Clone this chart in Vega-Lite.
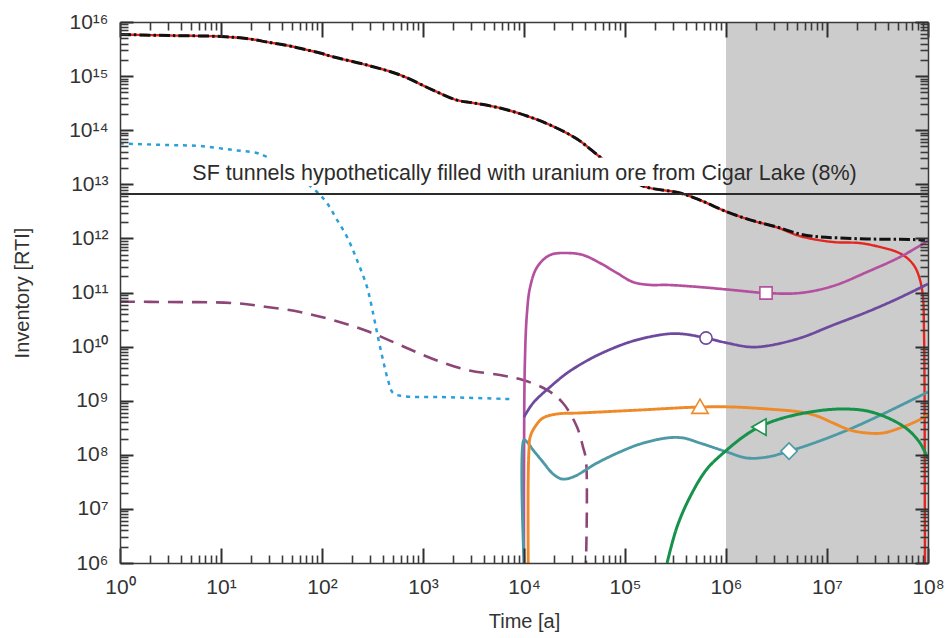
{
  "$schema": "https://vega.github.io/schema/vega-lite/v6.json",
  "width": 808,
  "height": 541,
  "autosize": "none",
  "padding": {"left": 120, "top": 22, "right": 18, "bottom": 75},
  "background": "white",
  "config": {"view": {"stroke": null}},
  "datasets": {
    "shade": [{"t0": 1000000, "t1": 100000000, "v0": 1000000, "v1": 1e16}],
    "box": [{"t0": 4.4, "t1": 1000000, "v0": 9.3e12, "v1": 3.1e13}],
    "note": [{"t": 5.2, "v": 1.2e13, "label": "SF tunnels hypothetically filled with uranium ore from Cigar Lake (8%)"}],
    "ore": [{"v": 6.6e12}],
    "ax": [{"t": 1, "v": 1000000}],
    "total": [
      {"t": 1, "v": 5.87e15}, {"t": 3.13, "v": 5.62e15}, {"t": 10, "v": 5.39e15}, {"t": 19.4, "v": 4.85e15},
      {"t": 28.5, "v": 4.27e15}, {"t": 48.2, "v": 3.6e15}, {"t": 60.5, "v": 3.26e15}, {"t": 95.5, "v": 2.67e15},
      {"t": 128, "v": 2.28e15}, {"t": 279, "v": 1.6e15}, {"t": 592, "v": 1.05e15}, {"t": 1256, "v": 5.5e14},
      {"t": 2172, "v": 3.6e14}, {"t": 3126, "v": 3.2e14}, {"t": 5786, "v": 2.57e14}, {"t": 10700, "v": 1.83e14},
      {"t": 18100, "v": 1.25e14}, {"t": 33500, "v": 6.87e13}, {"t": 56500, "v": 3.2e13}, {"t": 89100, "v": 1.69e13},
      {"t": 151000, "v": 9.3e12}, {"t": 351000, "v": 6.9e12}, {"t": 553000, "v": 5.1e12}, {"t": 1020000, "v": 3.1e12},
      {"t": 1730000, "v": 2.2e12}, {"t": 3200000, "v": 1.62e12}, {"t": 5410000, "v": 1.2e12}, {"t": 8530000, "v": 1.06e12},
      {"t": 13500000, "v": 1.02e12}, {"t": 24900000, "v": 9.75e11}, {"t": 52800000, "v": 9.6e11}, {"t": 93300000, "v": 9.4e11}
    ],
    "curves": [
      {"s": "red", "t": 1, "v": 5.87e15}, {"s": "red", "t": 3.13, "v": 5.62e15}, {"s": "red", "t": 10, "v": 5.39e15},
      {"s": "red", "t": 19.4, "v": 4.85e15}, {"s": "red", "t": 28.5, "v": 4.27e15}, {"s": "red", "t": 48.2, "v": 3.6e15},
      {"s": "red", "t": 60.5, "v": 3.26e15}, {"s": "red", "t": 95.5, "v": 2.67e15}, {"s": "red", "t": 128, "v": 2.28e15},
      {"s": "red", "t": 279, "v": 1.6e15}, {"s": "red", "t": 592, "v": 1.05e15}, {"s": "red", "t": 1256, "v": 5.5e14},
      {"s": "red", "t": 2172, "v": 3.6e14}, {"s": "red", "t": 3126, "v": 3.2e14}, {"s": "red", "t": 5786, "v": 2.57e14},
      {"s": "red", "t": 10700, "v": 1.83e14}, {"s": "red", "t": 18100, "v": 1.25e14}, {"s": "red", "t": 33500, "v": 6.87e13},
      {"s": "red", "t": 56500, "v": 3.2e13}, {"s": "red", "t": 89100, "v": 1.69e13}, {"s": "red", "t": 151000, "v": 9.3e12},
      {"s": "red", "t": 351000, "v": 6.9e12}, {"s": "red", "t": 553000, "v": 5.1e12}, {"s": "red", "t": 1020000, "v": 3.1e12},
      {"s": "red", "t": 1730000, "v": 2.2e12}, {"s": "red", "t": 3200000, "v": 1.6e12}, {"s": "red", "t": 5410000, "v": 1.1e12},
      {"s": "red", "t": 11500000, "v": 8.57e11}, {"s": "red", "t": 21200000, "v": 8.2e11}, {"s": "red", "t": 33500000, "v": 6.93e11},
      {"s": "red", "t": 49300000, "v": 5.61e11}, {"s": "red", "t": 62000000, "v": 4.35e11}, {"s": "red", "t": 74300000, "v": 2.96e11},
      {"s": "red", "t": 83400000, "v": 1.7e11}, {"s": "red", "t": 89200000, "v": 8.26e10}, {"s": "red", "t": 91200000, "v": 2.03e10},
      {"s": "red", "t": 92300000, "v": 2.4e9}, {"s": "red", "t": 93000000, "v": 10000000}, {"s": "red", "t": 93300000, "v": 1000000},

      {"s": "blue", "t": 1, "v": 5.68e13}, {"s": "blue", "t": 2.92, "v": 5.32e13}, {"s": "blue", "t": 6.2, "v": 5.1e13},
      {"s": "blue", "t": 13.1, "v": 4.31e13}, {"s": "blue", "t": 22.7, "v": 3.79e13}, {"s": "blue", "t": 28.5, "v": 3.2e13},
      {"s": "blue", "t": 50.5, "v": 1.69e13}, {"s": "blue", "t": 89.2, "v": 7.21e12}, {"s": "blue", "t": 112, "v": 4.51e12},
      {"s": "blue", "t": 141, "v": 2.19e12}, {"s": "blue", "t": 177, "v": 1.06e12}, {"s": "blue", "t": 222, "v": 3.99e11},
      {"s": "blue", "t": 279, "v": 1.26e11}, {"s": "blue", "t": 320, "v": 4.18e10}, {"s": "blue", "t": 358, "v": 1.5e10},
      {"s": "blue", "t": 402, "v": 5.65e9}, {"s": "blue", "t": 450, "v": 2.41e9}, {"s": "blue", "t": 504, "v": 1.39e9},
      {"s": "blue", "t": 620, "v": 1.22e9}, {"s": "blue", "t": 1473, "v": 1.17e9}, {"s": "blue", "t": 7780, "v": 1.07e9},

      {"s": "mauve", "t": 1, "v": 6.76e10}, {"s": "mauve", "t": 2.92, "v": 6.67e10}, {"s": "mauve", "t": 13.1, "v": 6.39e10},
      {"s": "mauve", "t": 28.5, "v": 5.4e10}, {"s": "mauve", "t": 60.5, "v": 4.36e10}, {"s": "mauve", "t": 128, "v": 3.1e10},
      {"s": "mauve", "t": 279, "v": 1.94e10}, {"s": "mauve", "t": 592, "v": 1.07e10}, {"s": "mauve", "t": 1256, "v": 5.9e9},
      {"s": "mauve", "t": 2730, "v": 3.69e9}, {"s": "mauve", "t": 5786, "v": 2.98e9}, {"s": "mauve", "t": 9770, "v": 2.41e9},
      {"s": "mauve", "t": 16900, "v": 1.58e9}, {"s": "mauve", "t": 24300, "v": 9.06e8}, {"s": "mauve", "t": 33500, "v": 3.26e8},
      {"s": "mauve", "t": 38400, "v": 1.39e8}, {"s": "mauve", "t": 41100, "v": 80000000}, {"s": "mauve", "t": 41100, "v": 1000000},

      {"s": "magenta", "t": 10000, "v": 1000000}, {"s": "magenta", "t": 10000, "v": 34200000}, {"s": "magenta", "t": 10200, "v": 4.98e9},
      {"s": "magenta", "t": 10700, "v": 4.18e10}, {"s": "magenta", "t": 11500, "v": 1.26e11}, {"s": "magenta", "t": 13500, "v": 2.96e11},
      {"s": "magenta", "t": 18100, "v": 4.93e11}, {"s": "magenta", "t": 26700, "v": 5.37e11}, {"s": "magenta", "t": 38400, "v": 4.93e11},
      {"s": "magenta", "t": 56500, "v": 3.51e11}, {"s": "magenta", "t": 83400, "v": 2.29e11}, {"s": "magenta", "t": 120000, "v": 1.56e11},
      {"s": "magenta", "t": 177000, "v": 1.38e11}, {"s": "magenta", "t": 261000, "v": 1.38e11}, {"s": "magenta", "t": 553000, "v": 1.26e11},
      {"s": "magenta", "t": 1170000, "v": 1.11e11}, {"s": "magenta", "t": 2490000, "v": 9.79e10}, {"s": "magenta", "t": 5410000, "v": 9.79e10},
      {"s": "magenta", "t": 11500000, "v": 1.32e11}, {"s": "magenta", "t": 24900000, "v": 2.39e11}, {"s": "magenta", "t": 52800000, "v": 4.53e11},
      {"s": "magenta", "t": 100000000, "v": 9e11},

      {"s": "violet", "t": 10000, "v": 5e8}, {"s": "violet", "t": 12300, "v": 9.06e8}, {"s": "violet", "t": 18100, "v": 1.79e9},
      {"s": "violet", "t": 26700, "v": 3.25e9}, {"s": "violet", "t": 38400, "v": 4.98e9}, {"s": "violet", "t": 56500, "v": 7.3e9},
      {"s": "violet", "t": 120000, "v": 1.27e10}, {"s": "violet", "t": 261000, "v": 1.71e10}, {"s": "violet", "t": 375000, "v": 1.71e10},
      {"s": "violet", "t": 634000, "v": 1.44e10}, {"s": "violet", "t": 1020000, "v": 1.17e10}, {"s": "violet", "t": 1730000, "v": 9.84e9},
      {"s": "violet", "t": 2550000, "v": 1.03e10}, {"s": "violet", "t": 5410000, "v": 1.44e10}, {"s": "violet", "t": 11500000, "v": 2.5e10},
      {"s": "violet", "t": 24900000, "v": 4.36e10}, {"s": "violet", "t": 49300000, "v": 7.59e10}, {"s": "violet", "t": 100000000, "v": 1.44e11},

      {"s": "teal", "t": 10000, "v": 1000000}, {"s": "teal", "t": 10000, "v": 1.88e8}, {"s": "teal", "t": 10700, "v": 1.73e8},
      {"s": "teal", "t": 12300, "v": 1.23e8}, {"s": "teal", "t": 15400, "v": 73600000}, {"s": "teal", "t": 19400, "v": 44200000},
      {"s": "teal", "t": 23800, "v": 35700000}, {"s": "teal", "t": 30600, "v": 38900000}, {"s": "teal", "t": 52800, "v": 70500000},
      {"s": "teal", "t": 89100, "v": 1.13e8}, {"s": "teal", "t": 141000, "v": 1.58e8}, {"s": "teal", "t": 261000, "v": 2.05e8},
      {"s": "teal", "t": 375000, "v": 2.05e8}, {"s": "teal", "t": 553000, "v": 1.65e8}, {"s": "teal", "t": 1020000, "v": 1.13e8},
      {"s": "teal", "t": 1610000, "v": 87300000}, {"s": "teal", "t": 2550000, "v": 91000000}, {"s": "teal", "t": 4210000, "v": 1.17e8},
      {"s": "teal", "t": 7960000, "v": 1.73e8}, {"s": "teal", "t": 16900000, "v": 3e8}, {"s": "teal", "t": 35800000, "v": 5.68e8},
      {"s": "teal", "t": 100000000, "v": 1.45e9},

      {"s": "orange", "t": 11000, "v": 1000000}, {"s": "orange", "t": 11000, "v": 34200000}, {"s": "orange", "t": 11200, "v": 1.23e8},
      {"s": "orange", "t": 11500, "v": 2.13e8}, {"s": "orange", "t": 12800, "v": 3.26e8}, {"s": "orange", "t": 15400, "v": 4.79e8},
      {"s": "orange", "t": 21200, "v": 5.68e8}, {"s": "orange", "t": 35800, "v": 5.93e8}, {"s": "orange", "t": 141000, "v": 6.73e8},
      {"s": "orange", "t": 553000, "v": 7.65e8}, {"s": "orange", "t": 1170000, "v": 7.65e8}, {"s": "orange", "t": 2550000, "v": 7.03e8},
      {"s": "orange", "t": 5410000, "v": 6.18e8}, {"s": "orange", "t": 7960000, "v": 5.21e8}, {"s": "orange", "t": 11500000, "v": 3.87e8},
      {"s": "orange", "t": 16900000, "v": 2.87e8}, {"s": "orange", "t": 24900000, "v": 2.53e8}, {"s": "orange", "t": 35800000, "v": 2.53e8},
      {"s": "orange", "t": 52800000, "v": 3.13e8}, {"s": "orange", "t": 77800000, "v": 4.22e8}, {"s": "orange", "t": 100000000, "v": 5.45e8},

      {"s": "green", "t": 261000, "v": 1000000}, {"s": "green", "t": 327000, "v": 4620000}, {"s": "green", "t": 440000, "v": 16600000},
      {"s": "green", "t": 648000, "v": 54700000}, {"s": "green", "t": 1020000, "v": 1.23e8}, {"s": "green", "t": 1470000, "v": 2.13e8},
      {"s": "green", "t": 2120000, "v": 3.26e8}, {"s": "green", "t": 3670000, "v": 4.79e8}, {"s": "green", "t": 7960000, "v": 6.46e8},
      {"s": "green", "t": 14400000, "v": 7.03e8}, {"s": "green", "t": 24900000, "v": 6.46e8}, {"s": "green", "t": 40200000, "v": 4.79e8},
      {"s": "green", "t": 62000000, "v": 3e8}, {"s": "green", "t": 83400000, "v": 1.65e8}, {"s": "green", "t": 100000000, "v": 83600000}
    ],
    "markers": [
      {"s": "magenta", "t": 2490000, "v": 9.79e10},
      {"s": "violet", "t": 634000, "v": 1.44e10},
      {"s": "orange", "t": 553000, "v": 7.9e8},
      {"s": "green", "t": 2120000, "v": 3.26e8},
      {"s": "teal", "t": 4210000, "v": 1.17e8}
    ]
  },
  "resolve": {"axis": {"x": "independent", "y": "independent"}},
  "layer": [
    {
      "data": {"name": "shade"},
      "mark": {"type": "rect", "color": "#cccccc"},
      "encoding": {
        "x": {"field": "t0", "type": "quantitative", "scale": {"type": "log", "domain": [1, 100000000], "nice": false}, "axis": null},
        "x2": {"field": "t1"},
        "y": {"field": "v0", "type": "quantitative", "scale": {"type": "log", "domain": [1000000, 1e16], "nice": false}, "axis": null},
        "y2": {"field": "v1"}
      }
    },
    {
      "data": {"name": "curves"},
      "mark": {"type": "line", "interpolate": "catmull-rom", "clip": true},
      "encoding": {
        "x": {"field": "t", "type": "quantitative", "scale": {"type": "log", "domain": [1, 100000000], "nice": false}, "axis": null},
        "y": {"field": "v", "type": "quantitative", "scale": {"type": "log", "domain": [1000000, 1e16], "nice": false}, "axis": null},
        "color": {
          "field": "s", "type": "nominal", "legend": null,
          "scale": {
            "domain": ["red", "blue", "mauve", "magenta", "violet", "teal", "orange", "green"],
            "range": ["#e3261f", "#2a9fd8", "#8b4577", "#b4509e", "#6e4a9e", "#4d9aa6", "#ef8a2b", "#17924a"]
          }
        },
        "strokeDash": {
          "field": "s", "type": "nominal", "legend": null,
          "scale": {
            "domain": ["red", "blue", "mauve", "magenta", "violet", "teal", "orange", "green"],
            "range": [[1, 0], [4, 5], [15, 9], [1, 0], [1, 0], [1, 0], [1, 0], [1, 0]]
          }
        },
        "strokeWidth": {
          "field": "s", "type": "nominal", "legend": null,
          "scale": {
            "domain": ["red", "blue", "mauve", "magenta", "violet", "teal", "orange", "green"],
            "range": [2.4, 3, 2.6, 2.2, 2.2, 2.2, 2.4, 2.4]
          }
        },
        "order": {"value": null}
      }
    },
    {
      "data": {"name": "total"},
      "mark": {"type": "line", "interpolate": "catmull-rom", "clip": true, "color": "#111111", "strokeWidth": 3, "strokeDash": [11, 3, 2.5, 3]},
      "encoding": {
        "x": {"field": "t", "type": "quantitative", "scale": {"type": "log", "domain": [1, 100000000], "nice": false}, "axis": null},
        "y": {"field": "v", "type": "quantitative", "scale": {"type": "log", "domain": [1000000, 1e16], "nice": false}, "axis": null}
      }
    },
    {
      "data": {"name": "markers"},
      "transform": [{"filter": "datum.s === 'magenta' || datum.s === 'violet'"}],
      "mark": {"type": "point", "filled": false, "fill": "white", "fillOpacity": 1, "strokeWidth": 1.6, "opacity": 1, "size": 150},
      "encoding": {
        "x": {"field": "t", "type": "quantitative", "scale": {"type": "log", "domain": [1, 100000000], "nice": false}, "axis": null},
        "y": {"field": "v", "type": "quantitative", "scale": {"type": "log", "domain": [1000000, 1e16], "nice": false}, "axis": null},
        "shape": {
          "field": "s", "type": "nominal", "legend": null,
          "scale": {"domain": ["magenta", "violet", "orange", "green", "teal"], "range": ["square", "circle", "triangle-up", "triangle-left", "diamond"]}
        },
        "stroke": {
          "field": "s", "type": "nominal", "legend": null,
          "scale": {"domain": ["magenta", "violet", "orange", "green", "teal"], "range": ["#b4509e", "#6e4a9e", "#ef8a2b", "#17924a", "#4d9aa6"]}
        }
      }
    },
    {
      "data": {"name": "markers"},
      "transform": [{"filter": "datum.s !== 'magenta' && datum.s !== 'violet'"}],
      "mark": {"type": "point", "filled": false, "fill": "white", "fillOpacity": 1, "strokeWidth": 1.6, "opacity": 1, "size": 270},
      "encoding": {
        "x": {"field": "t", "type": "quantitative", "scale": {"type": "log", "domain": [1, 100000000], "nice": false}, "axis": null},
        "y": {"field": "v", "type": "quantitative", "scale": {"type": "log", "domain": [1000000, 1e16], "nice": false}, "axis": null},
        "shape": {
          "field": "s", "type": "nominal", "legend": null,
          "scale": {"domain": ["magenta", "violet", "orange", "green", "teal"], "range": ["square", "circle", "triangle-up", "triangle-left", "diamond"]}
        },
        "stroke": {
          "field": "s", "type": "nominal", "legend": null,
          "scale": {"domain": ["magenta", "violet", "orange", "green", "teal"], "range": ["#b4509e", "#6e4a9e", "#ef8a2b", "#17924a", "#4d9aa6"]}
        }
      }
    },
    {
      "data": {"name": "box"},
      "mark": {"type": "rect", "color": "white"},
      "encoding": {
        "x": {"field": "t0", "type": "quantitative", "scale": {"type": "log", "domain": [1, 100000000], "nice": false}, "axis": null},
        "x2": {"field": "t1"},
        "y": {"field": "v0", "type": "quantitative", "scale": {"type": "log", "domain": [1000000, 1e16], "nice": false}, "axis": null},
        "y2": {"field": "v1"}
      }
    },
    {
      "data": {"name": "note"},
      "mark": {"type": "text", "align": "left", "baseline": "alphabetic", "font": "Liberation Sans", "fontSize": 21.5, "color": "#2b2b2b"},
      "encoding": {
        "x": {"field": "t", "type": "quantitative", "scale": {"type": "log", "domain": [1, 100000000], "nice": false}, "axis": null},
        "y": {"field": "v", "type": "quantitative", "scale": {"type": "log", "domain": [1000000, 1e16], "nice": false}, "axis": null},
        "text": {"field": "label"}
      }
    },
    {
      "data": {"name": "ore"},
      "mark": {"type": "rule", "color": "#2b2b2b", "strokeWidth": 2},
      "encoding": {
        "y": {"field": "v", "type": "quantitative", "scale": {"type": "log", "domain": [1000000, 1e16], "nice": false}, "axis": null}
      }
    },
    {
      "data": {"name": "ax"},
      "mark": {"type": "point", "opacity": 0},
      "encoding": {
        "x": {
          "field": "t", "type": "quantitative", "scale": {"type": "log", "domain": [1, 100000000], "nice": false},
          "axis": {
            "orient": "bottom", "zindex": 1, "values": [1, 10, 100, 1000, 10000, 100000, 1000000, 10000000, 100000000],
            "ticks": true, "tickSize": 0, "tickOpacity": 0, "grid": false, "domain": true, "domainColor": "#3a3a3a", "domainWidth": 1.5,
            "labelExpr": "'10' + (round(log(datum.value)/LN10) >= 10 ? '¹' : '') + ['⁰','¹','²','³','⁴','⁵','⁶','⁷','⁸','⁹'][round(log(datum.value)/LN10) % 10]",
            "labelFont": "Liberation Sans", "labelFontSize": 21, "labelColor": "#333333", "labelPadding": 13,
            "labelFlush": false, "labelOverlap": false, "labelBound": false,
            "title": "Time [a]", "titleFont": "Liberation Sans", "titleFontSize": 20, "titleFontWeight": "normal",
            "titleColor": "#333333", "titlePadding": 14
          }
        },
        "y": {
          "field": "v", "type": "quantitative", "scale": {"type": "log", "domain": [1000000, 1e16], "nice": false},
          "axis": {
            "orient": "left", "zindex": 1, "values": [1000000, 10000000, 100000000, 1000000000, 10000000000, 100000000000, 1000000000000, 10000000000000, 100000000000000, 1000000000000000, 1e16],
            "ticks": true, "tickSize": 0, "tickOpacity": 0, "grid": false, "domain": true, "domainColor": "#3a3a3a", "domainWidth": 1.5,
            "labelExpr": "'10' + (round(log(datum.value)/LN10) >= 10 ? '¹' : '') + ['⁰','¹','²','³','⁴','⁵','⁶','⁷','⁸','⁹'][round(log(datum.value)/LN10) % 10]",
            "labelFont": "Liberation Sans", "labelFontSize": 21, "labelColor": "#333333", "labelPadding": 12,
            "labelFlush": false, "labelOverlap": false, "labelBound": false,
            "title": "Inventory [RTI]", "titleFont": "Liberation Sans", "titleFontSize": 20, "titleFontWeight": "normal",
            "titleColor": "#333333", "titlePadding": 36
          }
        }
      }
    },
    {
      "data": {"name": "ax"},
      "mark": {"type": "point", "opacity": 0},
      "encoding": {
        "x": {
          "field": "t", "type": "quantitative", "scale": {"type": "log", "domain": [1, 100000000], "nice": false},
          "axis": {
            "orient": "bottom", "offset": -15, "zindex": 1, "values": [1, 10, 100, 1000, 10000, 100000, 1000000, 10000000, 100000000],
            "labels": false, "domain": false, "grid": false, "title": null,
            "ticks": true, "tickSize": 15, "tickColor": "#2f2f2f", "tickWidth": 2
          }
        },
        "y": {
          "field": "v", "type": "quantitative", "scale": {"type": "log", "domain": [1000000, 1e16], "nice": false},
          "axis": {
            "orient": "left", "offset": -13, "zindex": 1, "values": [1000000, 10000000, 100000000, 1000000000, 10000000000, 100000000000, 1000000000000, 10000000000000, 100000000000000, 1000000000000000, 1e16],
            "labels": false, "domain": false, "grid": false, "title": null,
            "ticks": true, "tickSize": 13, "tickColor": "#2f2f2f", "tickWidth": 2
          }
        }
      }
    },
    {
      "data": {"name": "ax"},
      "mark": {"type": "point", "opacity": 0},
      "encoding": {
        "x": {
          "field": "t", "type": "quantitative", "scale": {"type": "log", "domain": [1, 100000000], "nice": false},
          "axis": {
            "orient": "bottom", "offset": -8, "zindex": 1,
            "values": [2, 3, 4, 5, 6, 7, 8, 9, 20, 30, 40, 50, 60, 70, 80, 90, 200, 300, 400, 500, 600, 700, 800, 900, 2000, 3000, 4000, 5000, 6000, 7000, 8000, 9000, 20000, 30000, 40000, 50000, 60000, 70000, 80000, 90000, 200000, 300000, 400000, 500000, 600000, 700000, 800000, 900000, 2000000, 3000000, 4000000, 5000000, 6000000, 7000000, 8000000, 9000000, 20000000, 30000000, 40000000, 50000000, 60000000, 70000000, 80000000, 90000000],
            "labels": false, "domain": false, "grid": false, "title": null,
            "ticks": true, "tickSize": 8, "tickColor": "#3a3a3a", "tickWidth": 1.6
          }
        },
        "y": {
          "field": "v", "type": "quantitative", "scale": {"type": "log", "domain": [1000000, 1e16], "nice": false},
          "axis": {
            "orient": "left", "offset": -8, "zindex": 1,
            "values": [2e6, 3e6, 4e6, 5e6, 6e6, 7e6, 8e6, 9e6, 2e7, 3e7, 4e7, 5e7, 6e7, 7e7, 8e7, 9e7, 2e8, 3e8, 4e8, 5e8, 6e8, 7e8, 8e8, 9e8, 2e9, 3e9, 4e9, 5e9, 6e9, 7e9, 8e9, 9e9, 2e10, 3e10, 4e10, 5e10, 6e10, 7e10, 8e10, 9e10, 2e11, 3e11, 4e11, 5e11, 6e11, 7e11, 8e11, 9e11, 2e12, 3e12, 4e12, 5e12, 6e12, 7e12, 8e12, 9e12, 2e13, 3e13, 4e13, 5e13, 6e13, 7e13, 8e13, 9e13, 2e14, 3e14, 4e14, 5e14, 6e14, 7e14, 8e14, 9e14, 2e15, 3e15, 4e15, 5e15, 6e15, 7e15, 8e15, 9e15],
            "labels": false, "domain": false, "grid": false, "title": null,
            "ticks": true, "tickSize": 8, "tickColor": "#3a3a3a", "tickWidth": 1.6
          }
        }
      }
    },
    {
      "data": {"name": "ax"},
      "mark": {"type": "point", "opacity": 0},
      "encoding": {
        "x": {
          "field": "t", "type": "quantitative", "scale": {"type": "log", "domain": [1, 100000000], "nice": false},
          "axis": {
            "orient": "top", "offset": -15, "zindex": 1, "values": [1, 10, 100, 1000, 10000, 100000, 1000000, 10000000, 100000000],
            "labels": false, "domain": false, "grid": false, "title": null,
            "ticks": true, "tickSize": 15, "tickColor": "#2f2f2f", "tickWidth": 2
          }
        },
        "y": {
          "field": "v", "type": "quantitative", "scale": {"type": "log", "domain": [1000000, 1e16], "nice": false},
          "axis": {
            "orient": "right", "offset": -13, "zindex": 1, "values": [1000000, 10000000, 100000000, 1000000000, 10000000000, 100000000000, 1000000000000, 10000000000000, 100000000000000, 1000000000000000, 1e16],
            "labels": false, "domain": false, "grid": false, "title": null,
            "ticks": true, "tickSize": 13, "tickColor": "#2f2f2f", "tickWidth": 2
          }
        }
      }
    },
    {
      "data": {"name": "ax"},
      "mark": {"type": "point", "opacity": 0},
      "encoding": {
        "x": {
          "field": "t", "type": "quantitative", "scale": {"type": "log", "domain": [1, 100000000], "nice": false},
          "axis": {
            "orient": "top", "offset": -8, "zindex": 1,
            "values": [2, 3, 4, 5, 6, 7, 8, 9, 20, 30, 40, 50, 60, 70, 80, 90, 200, 300, 400, 500, 600, 700, 800, 900, 2000, 3000, 4000, 5000, 6000, 7000, 8000, 9000, 20000, 30000, 40000, 50000, 60000, 70000, 80000, 90000, 200000, 300000, 400000, 500000, 600000, 700000, 800000, 900000, 2000000, 3000000, 4000000, 5000000, 6000000, 7000000, 8000000, 9000000, 20000000, 30000000, 40000000, 50000000, 60000000, 70000000, 80000000, 90000000],
            "labels": false, "domain": false, "grid": false, "title": null,
            "ticks": true, "tickSize": 8, "tickColor": "#3a3a3a", "tickWidth": 1.6
          }
        },
        "y": {
          "field": "v", "type": "quantitative", "scale": {"type": "log", "domain": [1000000, 1e16], "nice": false},
          "axis": {
            "orient": "right", "offset": -8, "zindex": 1,
            "values": [2e6, 3e6, 4e6, 5e6, 6e6, 7e6, 8e6, 9e6, 2e7, 3e7, 4e7, 5e7, 6e7, 7e7, 8e7, 9e7, 2e8, 3e8, 4e8, 5e8, 6e8, 7e8, 8e8, 9e8, 2e9, 3e9, 4e9, 5e9, 6e9, 7e9, 8e9, 9e9, 2e10, 3e10, 4e10, 5e10, 6e10, 7e10, 8e10, 9e10, 2e11, 3e11, 4e11, 5e11, 6e11, 7e11, 8e11, 9e11, 2e12, 3e12, 4e12, 5e12, 6e12, 7e12, 8e12, 9e12, 2e13, 3e13, 4e13, 5e13, 6e13, 7e13, 8e13, 9e13, 2e14, 3e14, 4e14, 5e14, 6e14, 7e14, 8e14, 9e14, 2e15, 3e15, 4e15, 5e15, 6e15, 7e15, 8e15, 9e15],
            "labels": false, "domain": false, "grid": false, "title": null,
            "ticks": true, "tickSize": 8, "tickColor": "#3a3a3a", "tickWidth": 1.6
          }
        }
      }
    },
    {
      "data": {"name": "ax"},
      "mark": {"type": "point", "opacity": 0},
      "encoding": {
        "x": {
          "field": "t", "type": "quantitative", "scale": {"type": "log", "domain": [1, 100000000], "nice": false},
          "axis": {
            "orient": "top", "zindex": 1, "values": [1, 100000000],
            "labels": false, "ticks": false, "grid": false, "title": null,
            "domain": true, "domainColor": "#3a3a3a", "domainWidth": 1.5
          }
        },
        "y": {
          "field": "v", "type": "quantitative", "scale": {"type": "log", "domain": [1000000, 1e16], "nice": false},
          "axis": {
            "orient": "right", "zindex": 1, "values": [1000000, 1e16],
            "labels": false, "ticks": false, "grid": false, "title": null,
            "domain": true, "domainColor": "#3a3a3a", "domainWidth": 1.5
          }
        }
      }
    }
  ]
}
